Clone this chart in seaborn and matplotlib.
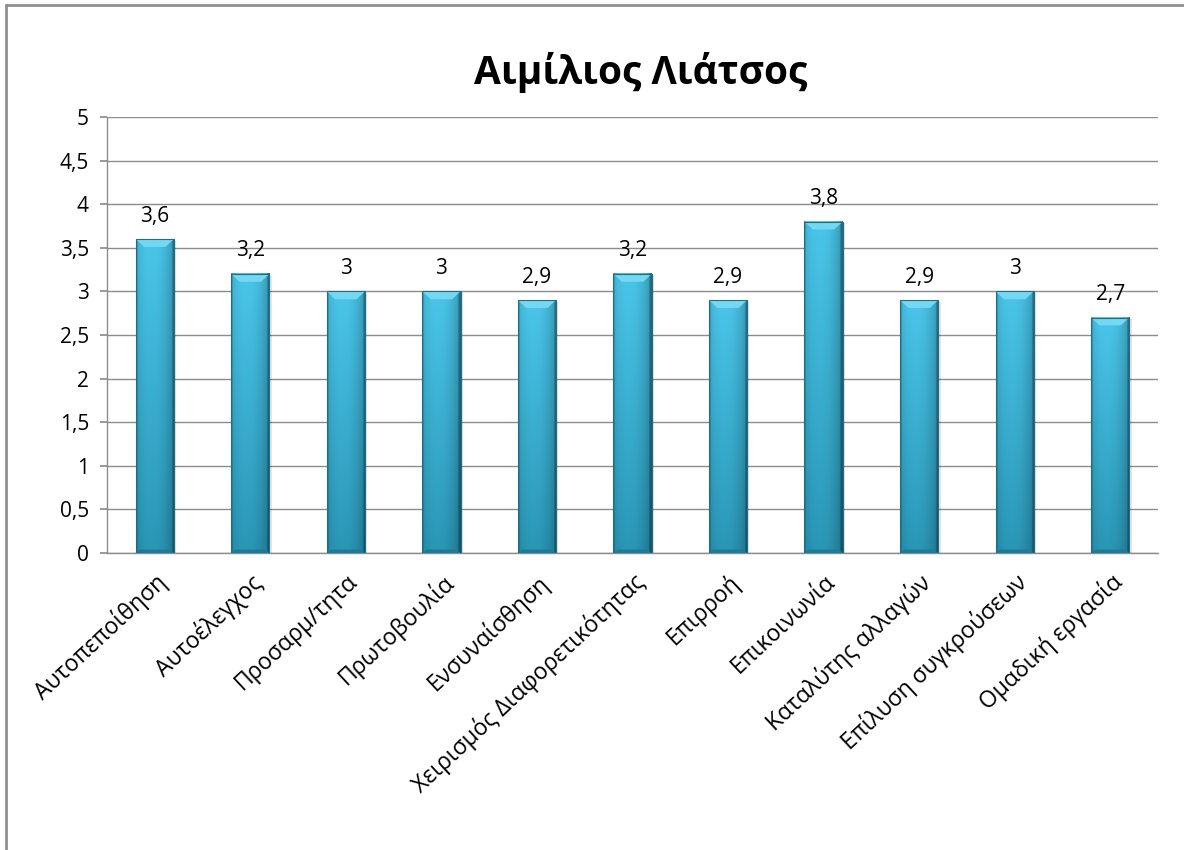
import numpy as np
import pandas as pd
import matplotlib
matplotlib.use("Agg")
import matplotlib.pyplot as plt
from matplotlib.lines import Line2D
from matplotlib.patches import Polygon
import seaborn as sns

# Competency scores
categories = [
    "Αυτοπεποίθηση", "Αυτοέλεγχος", "Προσαρμ/τητα", "Πρωτοβουλία",
    "Ενσυναίσθηση", "Χειρισμός Διαφορετικότητας", "Επιρροή", "Επικοινωνία",
    "Καταλύτης αλλαγών", "Επίλυση συγκρούσεων", "Ομαδική εργασία",
]
scores = [3.6, 3.2, 3.0, 3.0, 2.9, 3.2, 2.9, 3.8, 2.9, 3.0, 2.7]
y_ticks = [0, 0.5, 1, 1.5, 2, 2.5, 3, 3.5, 4, 4.5, 5]
title = "Αιμίλιος Λιάτσος"

sns.set_theme(style="white")
plt.rcParams["font.family"] = ["Open Sans", "DejaVu Sans"]
plt.rcParams["text.color"] = "black"
plt.rcParams["xtick.color"] = "black"
plt.rcParams["ytick.color"] = "black"

df = pd.DataFrame({"category": categories, "score": scores})

fig = plt.figure(figsize=(11.84, 8.5), dpi=100)
ax = fig.add_axes([0.0904, 0.3494, 0.8876, 0.513])

sns.barplot(data=df, x="category", y="score", color="#36b4da",
            width=0.4, ax=ax, zorder=3, edgecolor="none")

ax.set_ylim(0, 5)
ax.set_xlim(-0.5, len(categories) - 0.5)
ax.set_yticks(y_ticks)
ax.set_yticklabels([f"{v:g}".replace(".", ",") for v in y_ticks], fontsize=15)
ax.yaxis.grid(True, color="#8c8c8c", linewidth=1, zorder=0)
ax.set_axisbelow(True)
ax.set_xlabel("")
ax.set_ylabel("")
ax.set_xticks(range(len(categories)))
ax.set_xticklabels(categories, rotation=43, ha="right", rotation_mode="anchor",
                   fontsize=16.5)
ax.tick_params(axis="x", length=0, pad=12)
ax.tick_params(axis="y", length=5, color="#8c8c8c", pad=8, left=True,
               labelcolor="black")
for s in ["top", "right"]:
    ax.spines[s].set_visible(False)
for s in ["left", "bottom"]:
    ax.spines[s].set_color("#8c8c8c")
    ax.spines[s].set_linewidth(1)

# Cylindrical shading for each bar
top_c = np.array([0x4a, 0xc6, 0xea]) / 255
bot_c = np.array([0x2a, 0x96, 0xb6]) / 255
nx, ny = 60, 200
xs = np.linspace(0, 1, nx)
prof = 1.0 - 0.26 * np.abs((xs - 0.4) / 0.6) ** 2.2
prof[:3] *= 0.84
prof[-4:] *= 0.72
ys = np.linspace(0, 1, ny)[:, None]
base = top_c[None, None, :] * (1 - ys[..., None]) + bot_c[None, None, :] * ys[..., None]
grad = np.clip(base * prof[None, :, None], 0, 1)

patches = list(ax.patches)
for p in patches:
    x0, w, h = p.get_x(), p.get_width(), p.get_height()
    p.set_facecolor("none")
    # soft drop shadow
    ax.add_patch(plt.Rectangle((x0 + w * 0.06, -0.02), w, h, facecolor="#000000",
                               alpha=0.10, edgecolor="none", zorder=2.5))
    ax.imshow(grad, extent=(x0, x0 + w, 0, h), aspect="auto",
              origin="upper", zorder=3, interpolation="bilinear")
    # bevelled top cap
    cap = 0.09
    inset = w * 0.22
    ax.add_patch(Polygon([(x0, h), (x0 + w, h), (x0 + w - inset, h - cap),
                          (x0 + inset, h - cap)], closed=True,
                         facecolor="#72d8f4", edgecolor="none", zorder=4))
    # bottom rim
    ax.add_patch(Polygon([(x0, 0), (x0 + w, 0), (x0 + w - inset * 0.5, 0.04),
                          (x0 + inset * 0.5, 0.04)], closed=True,
                         facecolor="#1f7a96", edgecolor="none", zorder=4))
    ax.add_patch(plt.Rectangle((x0, 0), w, h, facecolor="none",
                               edgecolor="#1d6f89", linewidth=0.8, zorder=5))

ax.set_xlim(-0.5, len(categories) - 0.5)
ax.set_ylim(0, 5)

ax.bar_label(ax.containers[0], labels=[f"{v:g}".replace(".", ",") for v in scores],
             padding=9, fontsize=15, color="black")

fig.text(0.541, 0.915, title, ha="center", va="center", fontsize=28,
         fontweight="bold", color="black")

# Chart frame on the left and top edges
fig.add_artist(Line2D([0.005, 0.005], [0, 0.994], transform=fig.transFigure,
                      color="#8f8f8f", linewidth=2))
fig.add_artist(Line2D([0.005, 1.0], [0.994, 0.994], transform=fig.transFigure,
                      color="#8f8f8f", linewidth=2))

fig.savefig("out.png", dpi=100, facecolor="white")
